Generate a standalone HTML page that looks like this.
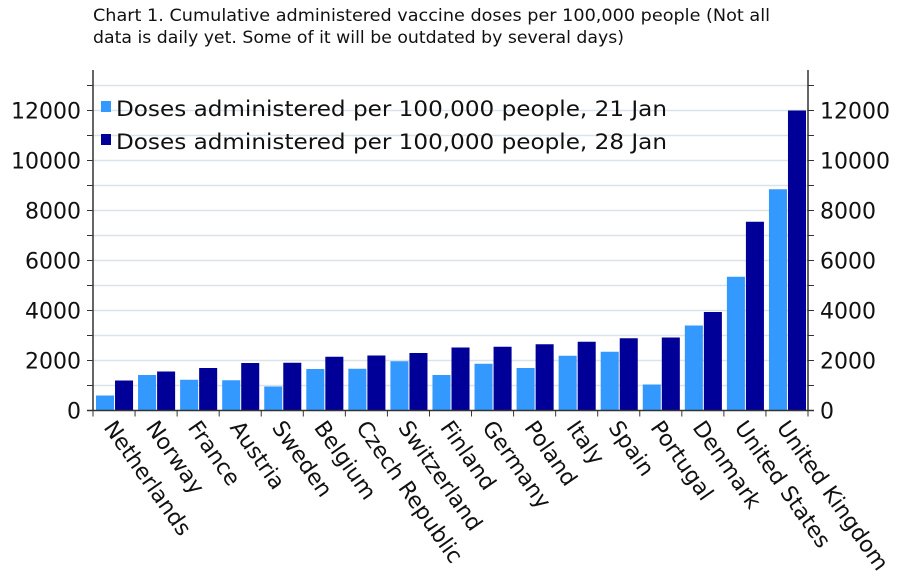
<!DOCTYPE html>
<html><head><meta charset="utf-8"><style>
html,body{margin:0;padding:0;background:#fff;}
svg{display:block;font-family:"DejaVu Sans","Liberation Sans",sans-serif;}
</style></head><body>
<svg id="chart" width="914" height="584" viewBox="0 0 914 584" xmlns="http://www.w3.org/2000/svg">
<text x="93" y="21" font-size="16.5" fill="#111" textLength="677" lengthAdjust="spacingAndGlyphs">Chart 1. Cumulative administered vaccine doses per 100,000 people (Not all</text>
<text x="93" y="43" font-size="16.5" fill="#111" textLength="531" lengthAdjust="spacingAndGlyphs">data is daily yet. Some of it will be outdated by several days)</text>
<g id="grid"></g><g id="bars"></g><g id="axes"></g>
<g>
<rect x="101" y="101" width="10" height="11" fill="#3399ff"/>
<text x="116" y="116" font-size="21" fill="#111" textLength="551" lengthAdjust="spacingAndGlyphs">Doses administered per 100,000 people, 21 Jan</text>
<rect x="101" y="134" width="10" height="11" fill="#000099"/>
<text x="116" y="149" font-size="21" fill="#111" textLength="551" lengthAdjust="spacingAndGlyphs">Doses administered per 100,000 people, 28 Jan</text>
</g>
</svg>
<script>
const categories=["Netherlands","Norway","France","Austria","Sweden","Belgium","Czech Republic","Switzerland","Finland","Germany","Poland","Italy","Spain","Portugal","Denmark","United States","United Kingdom"];
const jan21=[600,1420,1230,1210,960,1660,1670,1970,1420,1870,1700,2190,2350,1040,3400,5350,8850];
const jan28=[1200,1560,1700,1900,1910,2150,2200,2300,2520,2550,2650,2750,2890,2920,3940,7550,12000];
const yTicks=[0,2000,4000,6000,8000,10000,12000];
const NS="http://www.w3.org/2000/svg";
const x0=93,x1=808,yTop=70,y0=410.5,pxPer=300/12000;
const bw=(x1-x0)/categories.length;
const y=v=>y0-v*pxPer;
const xc=i=>x0+bw*i;
function mk(parent,tag,attrs){const e=document.createElementNS(NS,tag);for(const k in attrs)e.setAttribute(k,attrs[k]);document.getElementById(parent).appendChild(e);return e;}
for(let v=1000;v<=13000;v+=1000){
 const g=mk('grid','line',{x1:x0,x2:x1,y1:y(v),y2:y(v),stroke:'#dbe3ea','stroke-width':1.5});
 
 
 for(const [a,b] of [[x0-6,x0],[x1,x1+6]]){
  const t=mk('axes','line',{x1:a,x2:b,y1:y(v),y2:y(v),stroke:'#333','stroke-width':1});
  
  
 }
}
categories.forEach((c,i)=>{
 const b1=mk('bars','rect',{x:xc(i)+3,y:y(jan21[i]),width:bw/2-3,height:jan21[i]*pxPer,fill:'#3399ff'});
 
 
 const b2=mk('bars','rect',{x:xc(i)+bw/2+1,y:y(jan28[i]),width:bw/2-3,height:jan28[i]*pxPer,fill:'#000099'});
 
 
 const lb=mk('axes','text',{transform:`translate(${xc(i)+bw/2-11},${y0+17}) rotate(55)`,'font-size':22,fill:'#111'});
 lb.textContent=c;
 
 
});
for(let i=0;i<=categories.length;i++){
 const t=mk('axes','line',{x1:xc(i),x2:xc(i),y1:y0,y2:y0+6,stroke:'#333'});
 
 
}
yTicks.forEach(v=>{
 const l=mk('axes','text',{x:x0-12,y:y(v)+8,'font-size':22,'text-anchor':'end',fill:'#111'});
 l.textContent=v;
 
 
 const r=mk('axes','text',{x:x1+12,y:y(v)+8,'font-size':22,fill:'#111'});
 r.textContent=v;
 
 
});
const la=mk('axes','line',{x1:x0,x2:x0,y1:yTop,y2:y0,stroke:'#333','stroke-width':1.5});


const ra=mk('axes','line',{x1:x1,x2:x1,y1:yTop,y2:y0,stroke:'#333','stroke-width':1.5});


const xa=mk('axes','line',{x1:x0-6,x2:x1+6,y1:y0,y2:y0,stroke:'#333','stroke-width':1.5});


</script>
</body></html>
